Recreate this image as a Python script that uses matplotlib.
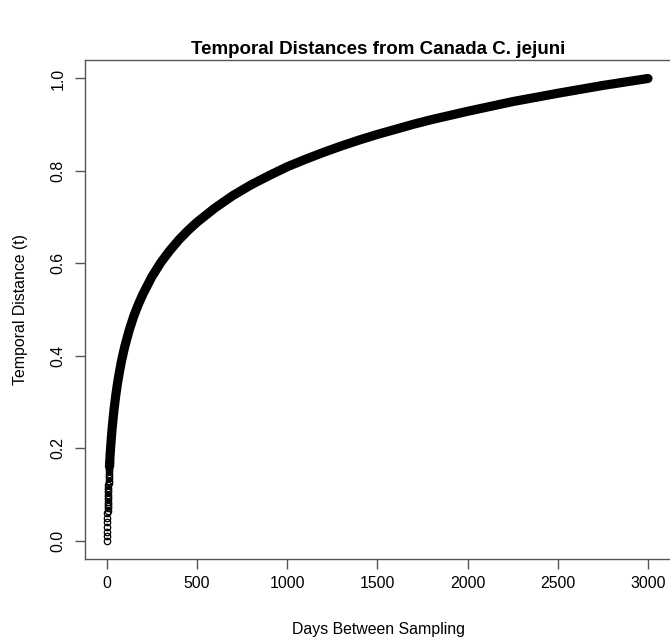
import matplotlib
matplotlib.use("Agg")
from matplotlib import pyplot as plt

plt.rcParams['font.family'] = ['Liberation Sans', 'DejaVu Sans']

# values
# hollow circles visible at the very start of the curve
start_days = [0, 0.6, 1.2, 1.9, 2.6, 3.3, 4.1, 4.5, 4.9, 5.4, 5.8, 6.3, 6.7, 7.2,
              7.7, 8.2, 8.7, 9.3, 9.8, 10.4, 11.0, 11.6, 12.2, 12.9, 13.5, 14.2,
              14.9, 15.6, 16.4]
start_t = [0.000, 0.010, 0.020, 0.030, 0.040, 0.050, 0.060, 0.065, 0.070, 0.075,
           0.080, 0.085, 0.090, 0.095, 0.100, 0.105, 0.110, 0.115, 0.120, 0.125,
           0.130, 0.135, 0.140, 0.145, 0.150, 0.155, 0.160, 0.165, 0.170]

# the solid part of the curve (overlapping circles)
days = [15, 20, 25, 30, 40, 50, 60, 70, 80, 90, 100, 125, 150, 175, 200, 250, 300,
        350, 400, 450, 500, 600, 700, 800, 900, 1000, 1100, 1200, 1300, 1400,
        1500, 1600, 1700, 1800, 1900, 2000, 2250, 2500, 2750, 3000]
t = [0.161, 0.192, 0.219, 0.243, 0.282, 0.314, 0.341, 0.364, 0.385, 0.403, 0.420,
     0.456, 0.486, 0.511, 0.533, 0.571, 0.602, 0.628, 0.651, 0.671, 0.689, 0.720,
     0.747, 0.770, 0.790, 0.809, 0.825, 0.840, 0.854, 0.867, 0.879, 0.890, 0.901,
     0.911, 0.920, 0.929, 0.950, 0.968, 0.985, 1.000]

xticks = [0, 500, 1000, 1500, 2000, 2500, 3000]
yticks = [0.0, 0.2, 0.4, 0.6, 0.8, 1.0]

fig = plt.figure(figsize=(6.7, 6.38), dpi=100)
ax = fig.add_axes([85 / 670, 78.7 / 638, 586 / 670, 499.3 / 638])

ax.plot(days, t, color='black', linewidth=6.6, solid_capstyle='round',
        solid_joinstyle='round')
ax.plot(start_days, start_t, linestyle='none', marker='o', markersize=4.6,
        markerfacecolor='none', markeredgecolor='black', markeredgewidth=0.9)

ax.set_xlim(-120.3, 3127.5)
ax.set_ylim(-0.04, 1.04)
ax.set_xticks(xticks)
ax.set_xticklabels([str(v) for v in xticks])
ax.set_yticks(yticks)
ax.set_yticklabels(['%.1f' % v for v in yticks], rotation=90, va='center')

for s in ax.spines.values():
    s.set_color('#555555')
    s.set_linewidth(1.0)
ax.tick_params(direction='out', length=7.2, width=1.0, color='#555555',
               labelsize=11.4, pad=5)
ax.tick_params(axis='y', pad=7)

ax.set_title('Temporal Distances from Canada C. jejuni', fontsize=13.5,
             fontweight='bold', pad=4)
ax.set_xlabel('Days Between Sampling', fontsize=11.4, labelpad=22)
ax.set_ylabel('Temporal Distance (t)', fontsize=11.4, labelpad=16)

fig.savefig('out.png', dpi=100)
